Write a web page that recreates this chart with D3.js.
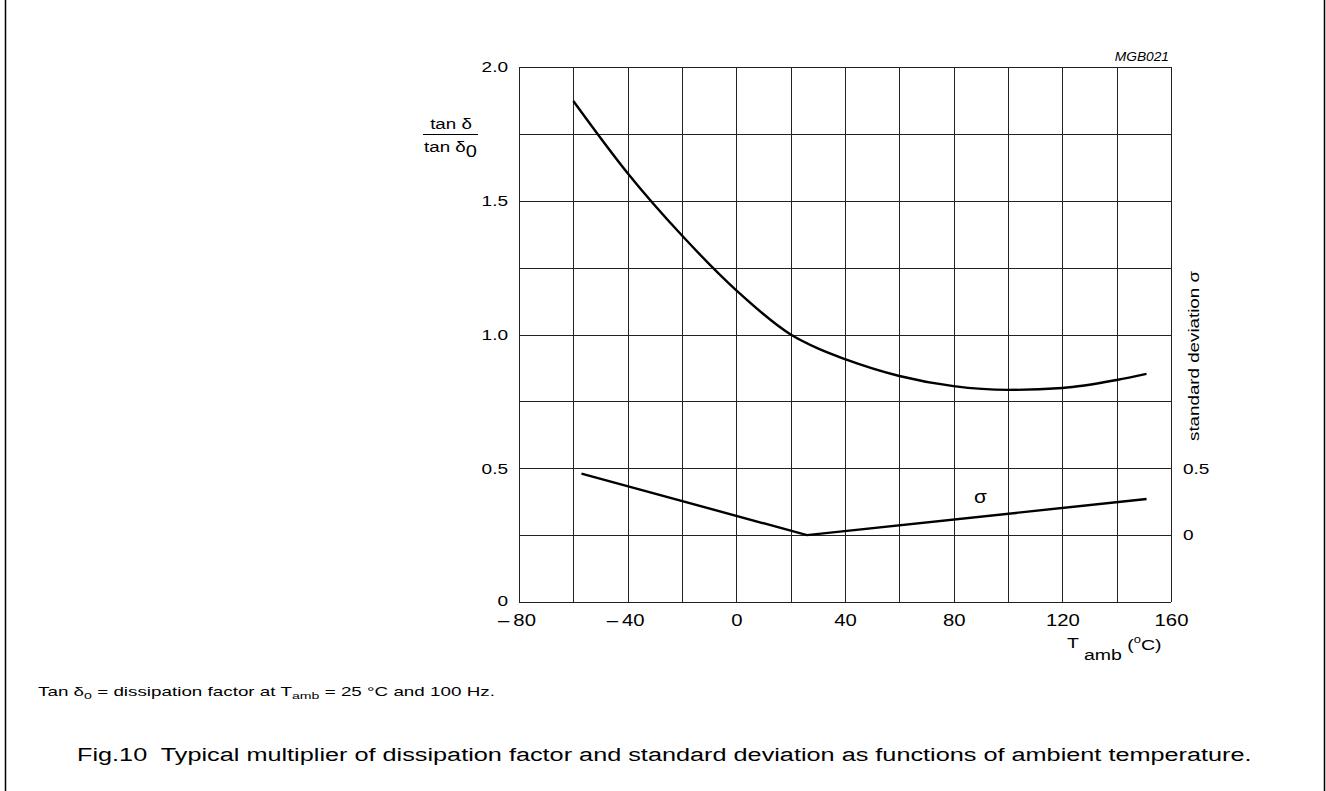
<!DOCTYPE html>
<html><head><meta charset="utf-8">
<script src="https://cdn.jsdelivr.net/npm/d3@7"></script>
<style>
html,body{margin:0;padding:0;background:#fff;}
svg text{font-family:"Liberation Sans",Arial,sans-serif;fill:#000;}
</style></head>
<body><svg id="c" width="1326" height="791"></svg>
<script>
// ---- data ----
const tempTan = [-60, -40, -20, 0, 20, 30, 40, 60, 80, 100, 120, 140, 151];
const tanRatio = [1.873, 1.603, 1.37, 1.165, 1.0, 0.948, 0.908, 0.845, 0.807, 0.793, 0.80, 0.83, 0.853];
const tempSigma = [-57, 26, 151];
const sigmaVals = [0.46, 0.0, 0.27];
const xTicks = [-80, -40, 0, 40, 80, 120, 160];
const yTicks = [0, 0.5, 1.0, 1.5, 2.0];
const sigmaTicks = [0, 0.5];
const xGrid = d3.range(-80, 161, 20);
const yGrid = d3.range(0, 2.001, 0.25);

const svg = d3.select("#c");
const x = d3.scaleLinear().domain([-80, 160]).range([519, 1171]);
const y = d3.scaleLinear().domain([0, 2]).range([602, 67]);
const ys = d3.scaleLinear().domain([0, 0.5]).range([y(0.25), y(0.5)]);
const FONT = '"Liberation Sans",Arial,sans-serif';

function txt(px, py, size, sx, anchor) {
  return svg.append("text")
    .attr("transform", `translate(${px},${py}) scale(${sx},1)`)
    .attr("text-anchor", anchor || "start")
    .style("font-size", size + "px");
}

// frame lines
svg.append("line").attr("x1",5.5).attr("x2",5.5).attr("y1",0).attr("y2",791).attr("stroke","#000").attr("stroke-width",1.5);
svg.append("line").attr("x1",1324.5).attr("x2",1324.5).attr("y1",0).attr("y2",791).attr("stroke","#000").attr("stroke-width",1.5);

// grid
const g = svg.append("g");
g.selectAll(".vg").data(xGrid).join("line")
  .attr("x1", d => Math.round(x(d)) + 0.5).attr("x2", d => Math.round(x(d)) + 0.5)
  .attr("y1", y(2)).attr("y2", y(0)).attr("stroke", "#222").attr("stroke-width", 1);
g.selectAll(".hg").data(yGrid).join("line")
  .attr("y1", d => Math.round(y(d)) + 0.5).attr("y2", d => Math.round(y(d)) + 0.5)
  .attr("x1", x(-80)).attr("x2", x(160)).attr("stroke", "#222").attr("stroke-width", 1);

// axes (labels only)
const SX = 1.27;
const fmtX = d => d < 0 ? "\u2013\u2009" + Math.abs(d) : String(d);
const ax = svg.append("g").attr("transform", `translate(0,${y(0)})`)
  .call(d3.axisBottom(x).tickValues(xTicks).tickFormat(fmtX).tickSize(0).tickPadding(12.5));
const ay = svg.append("g").attr("transform", `translate(${x(-80)},0)`)
  .call(d3.axisLeft(y).tickValues(yTicks).tickFormat(d => d === 0 ? "0" : d.toFixed(1)).tickSize(0).tickPadding(11 / SX));
const ar = svg.append("g").attr("transform", `translate(${x(160)},0)`)
  .call(d3.axisRight(ys).tickValues(sigmaTicks).tickFormat(d => d === 0 ? "0" : "0.5").tickSize(0).tickPadding(12 / SX));
[ax, ay, ar].forEach(a => {
  a.select(".domain").remove();
  a.selectAll("text").style("font-size", "15px").style("font-family", FONT).attr("fill", "#000")
    .attr("transform", `scale(${SX},1)`);
});
ax.selectAll("text").style("font-size", "16px");
ax.selectAll(".tick").filter(d => d < 0).select("text").attr("x", -2);
ay.selectAll(".tick").filter(d => d === 0).select("text").attr("dy", "0.2em");

// curves
svg.append("path")
  .attr("d", d3.line().x((d, i) => x(tempTan[i])).y(d => y(d)).curve(d3.curveMonotoneX)(tanRatio))
  .attr("fill", "none").attr("stroke", "#000").attr("stroke-width", 2.4);
svg.append("path")
  .attr("d", d3.line().x((d, i) => x(tempSigma[i])).y(d => ys(d))(sigmaVals))
  .attr("fill", "none").attr("stroke", "#000").attr("stroke-width", 2.4);

// sigma label in plot
txt(980.5, 503, 19, 1.1, "middle").text("σ");

// MGB021
txt(1169, 61, 12.5, 1.1, "end").style("font-style", "italic").text("MGB021");

// y label fraction
txt(451, 129, 15, 1.25, "middle").text("tan δ");
svg.append("line").attr("x1", 423).attr("x2", 478).attr("y1", 134.5).attr("y2", 134.5).attr("stroke", "#000").attr("stroke-width", 1);
const t2 = txt(424, 152, 15, 1.25, "start");
t2.append("tspan").text("tan δ");
t2.append("tspan").attr("dy", 5).style("font-size", "16px").text("0");

// right label
svg.append("text").attr("transform", "translate(1199,356) rotate(-90) scale(1.25,1)").attr("text-anchor", "middle")
  .style("font-size", "15px").text("standard deviation  σ");

// x label
const xl = txt(1067, 648, 15, 1.3, "start");
xl.append("tspan").text("T ");
xl.append("tspan").attr("dy", 12).text("amb");
xl.append("tspan").attr("dy", -10).text(" (");
xl.append("tspan").attr("dy", -7).style("font-size", "10px").text("o");
xl.append("tspan").attr("dy", 7).text("C)");

// footnote
const fn = txt(38, 696, 12, 1.57, "start");
fn.append("tspan").text("Tan δ");
fn.append("tspan").attr("dy", 3).style("font-size", "9px").text("0");
fn.append("tspan").attr("dy", -3).text(" = dissipation factor at T");
fn.append("tspan").attr("dy", 3).style("font-size", "9px").text("amb");
fn.append("tspan").attr("dy", -3).text(" = 25 °C and 100 Hz.");

// caption
txt(77, 761, 19, 1.33, "start").attr("xml:space", "preserve")
  .text("Fig.10  Typical multiplier of dissipation factor and standard deviation as functions of ambient temperature.");
</script></body></html>
